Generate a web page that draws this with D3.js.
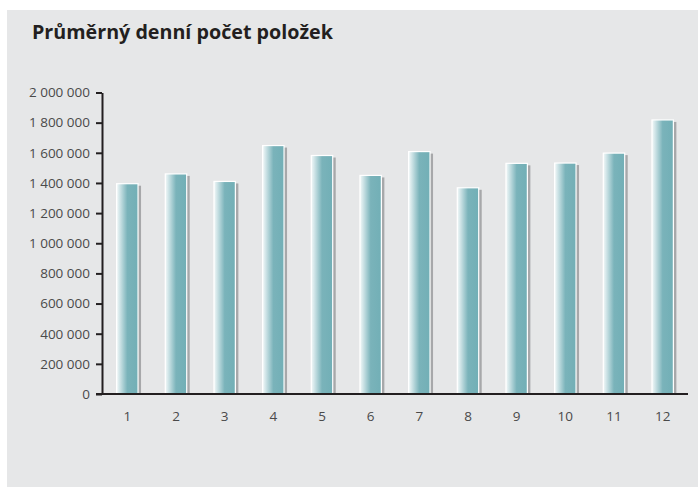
<!DOCTYPE html>
<meta charset="utf-8">
<body style="margin:0;background:#fff">
<style>
    text { font-family: "Open Sans", sans-serif; }
    .title { font-size: 19.7px; font-weight: bold; fill: #231f20; }
    .axis text { font-size: 13.5px; fill: #4a4a4a; }
    .axis path, .axis line { stroke: #231f20; stroke-width: 2; }
</style>
<script src="https://d3js.org/d3.v7.min.js"></script>
<script>
    // monthly averages
    const months = ["1", "2", "3", "4", "5", "6", "7", "8", "9", "10", "11", "12"];
    const values = [1395000, 1460000, 1410000, 1648000, 1582000, 1450000,
                    1608000, 1368000, 1530000, 1532000, 1598000, 1818000];
    const yTicks = [0, 200000, 400000, 600000, 800000, 1000000,
                    1200000, 1400000, 1600000, 1800000, 2000000];

    const W = 698, H = 487;
    const svg = d3.select("body").append("svg")
        .attr("width", W)
        .attr("height", H);

    // grey panel
    svg.append("rect")
        .attr("x", 7).attr("y", 10)
        .attr("width", W - 7).attr("height", H - 10)
        .attr("fill", "#e6e7e8");

    svg.append("text")
        .attr("class", "title")
        .attr("x", 32).attr("y", 39)
        .text("Průměrný denní počet položek");

    // bar gradient: white highlight on the left fading into teal
    const grad = svg.append("defs").append("linearGradient")
        .attr("id", "barGrad")
        .attr("x1", "0%").attr("x2", "100%");
    grad.append("stop").attr("offset", "0%").attr("stop-color", "#f4f9f9");
    grad.append("stop").attr("offset", "15%").attr("stop-color", "#cfe4e7");
    grad.append("stop").attr("offset", "50%").attr("stop-color", "#7ab3ba");
    grad.append("stop").attr("offset", "100%").attr("stop-color", "#72afb6");

    const x = d3.scaleBand()
        .domain(months)
        .range([103, 687])
        .paddingInner(0.56)
        .paddingOuter(0.28);

    const y = d3.scaleLinear()
        .domain([0, 2000000])
        .range([394, 92.5]);

    const fmt = d3.formatLocale({decimal: ",", thousands: " ", grouping: [3], currency: ["", ""]}).format(",");

    const bars = svg.append("g").selectAll("g")
        .data(values)
        .join("g");

    // drop shadow on the right
    bars.append("rect")
        .attr("x", (d, i) => x(months[i]) + 3)
        .attr("y", d => y(d) + 2)
        .attr("width", x.bandwidth())
        .attr("height", d => y(0) - y(d) - 2)
        .attr("fill", "#a7a8aa");

    bars.append("rect")
        .attr("x", (d, i) => x(months[i]))
        .attr("y", d => y(d))
        .attr("width", x.bandwidth())
        .attr("height", d => y(0) - y(d))
        .attr("fill", "url(#barGrad)")
        .attr("stroke", "#ffffff")
        .attr("stroke-width", 1.2);

    // y axis
    svg.append("g")
        .attr("class", "axis")
        .attr("transform", "translate(102,0)")
        .call(d3.axisLeft(y).tickValues(yTicks).tickFormat(fmt).tickSize(6).tickPadding(6).tickSizeOuter(0));

    // x axis
    const xAxis = svg.append("g")
        .attr("class", "axis")
        .attr("transform", "translate(0,394)")
        .call(d3.axisBottom(x).tickSize(0).tickPadding(17));
    xAxis.select(".domain").attr("d", "M96,0H688");
</script>
</body>
